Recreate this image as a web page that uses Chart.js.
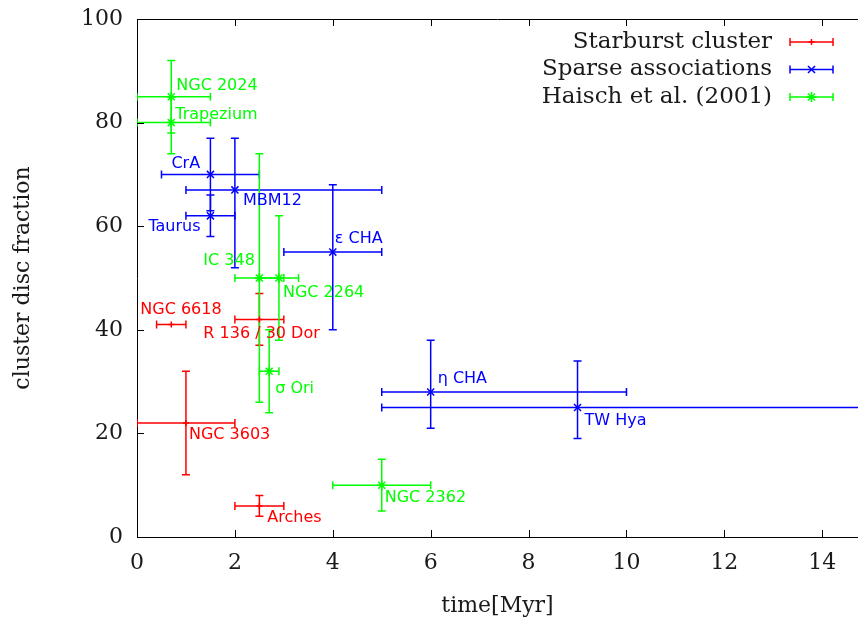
<!DOCTYPE html>
<html>
<head>
<meta charset="utf-8">
<script src="https://cdn.jsdelivr.net/npm/chart.js@4/dist/chart.umd.min.js"></script>
<style>
  html, body { margin: 0; padding: 0; background: #fff; }
  #wrap { width: 858px; height: 621px; }
</style>
</head>
<body>
<div id="wrap"><canvas id="discChart" width="858" height="621"></canvas></div>
<script>
// tick labels
const xTicks = [0, 2, 4, 6, 8, 10, 12, 14];
const yTicks = [0, 20, 40, 60, 80, 100];

// Starburst clusters
const starburstNames = ['NGC 6618', 'R 136 / 30 Dor', 'NGC 3603', 'Arches'];
const starburstAge = [0.7, 2.5, 1.0, 2.5];
const starburstAgeLow = [0.4, 2.0, 0.0, 2.0];
const starburstAgeHigh = [1.0, 3.0, 2.0, 3.0];
const starburstFrac = [41, 42, 22, 6];
const starburstFracLow = [41, 37, 12, 4];
const starburstFracHigh = [41, 47, 32, 8];

// Sparse associations
const sparseNames = ['CrA', 'MBM12', 'Taurus', 'ε CHA', 'η CHA', 'TW Hya'];
const sparseAge = [1.5, 2.0, 1.5, 4.0, 6.0, 9.0];
const sparseAgeLow = [0.5, 1.0, 1.0, 3.0, 5.0, 5.0];
const sparseAgeHigh = [2.5, 5.0, 2.0, 5.0, 10.0, 20.0];
const sparseFrac = [70, 67, 62, 55, 28, 25];
const sparseFracLow = [63, 52, 58, 40, 21, 19];
const sparseFracHigh = [77, 77, 66, 68, 38, 34];

// Haisch et al. (2001)
const haischNames = ['NGC 2024', 'Trapezium', 'IC 348', 'NGC 2264', 'σ Ori', 'NGC 2362'];
const haischAge = [0.7, 0.7, 2.5, 2.9, 2.7, 5.0];
const haischAgeLow = [0.0, 0.0, 2.0, 2.5, 2.5, 4.0];
const haischAgeHigh = [1.5, 1.5, 3.0, 3.3, 2.9, 6.0];
const haischFrac = [85, 80, 50, 50, 32, 10];
const haischFracLow = [78, 74, 26, 38, 24, 5];
const haischFracHigh = [92, 85, 74, 62, 40, 15];

// label offsets in pixels from each point (style, not data)
const starburstLabelOffsets = [[-31, -15], [-56, 14], [3, 12], [8, 12]];
const sparseLabelOffsets = [[-39, -11], [8, 11], [-62, 11], [2, -13], [7, -13], [7, 13]];
const haischLabelOffsets = [[5, -11], [4, -8], [-56, -17], [4, 15], [6, 18], [3, 13]];

const serif = '"DejaVu Serif", "Liberation Serif", serif';
const sans = '"DejaVu Sans", sans-serif';
const ink = '#1a1a1a';

function buildPoints(names, age, ageLow, ageHigh, frac, fracLow, fracHigh) {
  return names.map((name, i) => ({
    x: age[i], y: frac[i],
    xMin: ageLow[i], xMax: ageHigh[i],
    yMin: fracLow[i], yMax: fracHigh[i],
    name: name
  }));
}

const errorBars = {
  id: 'errorBars',
  beforeDatasetsDraw(chart) {
    const { ctx, chartArea, scales: { x, y } } = chart;
    const cap = 4;
    ctx.save();
    ctx.beginPath();
    ctx.rect(chartArea.left, chartArea.top, chartArea.right - chartArea.left, chartArea.bottom - chartArea.top);
    ctx.clip();
    chart.data.datasets.forEach((ds) => {
      ctx.strokeStyle = ds.borderColor;
      ctx.lineWidth = 1.5;
      ds.data.forEach((p) => {
        const px = x.getPixelForValue(p.x);
        const py = y.getPixelForValue(p.y);
        const x0 = x.getPixelForValue(p.xMin);
        const x1 = x.getPixelForValue(p.xMax);
        const y0 = y.getPixelForValue(p.yMin);
        const y1 = y.getPixelForValue(p.yMax);
        ctx.beginPath();
        if (p.xMax > p.xMin) {
          ctx.moveTo(x0, py); ctx.lineTo(x1, py);
          ctx.moveTo(x0, py - cap); ctx.lineTo(x0, py + cap);
          ctx.moveTo(x1, py - cap); ctx.lineTo(x1, py + cap);
        }
        if (p.yMax > p.yMin) {
          ctx.moveTo(px, y0); ctx.lineTo(px, y1);
          ctx.moveTo(px - cap, y0); ctx.lineTo(px + cap, y0);
          ctx.moveTo(px - cap, y1); ctx.lineTo(px + cap, y1);
        }
        ctx.stroke();
      });
    });
    ctx.restore();
  }
};

const frameTicks = {
  id: 'frameTicks',
  afterDraw(chart) {
    const { ctx, chartArea, scales: { x, y } } = chart;
    const len = 7;
    ctx.save();
    ctx.strokeStyle = '#000';
    ctx.lineWidth = 1;
    ctx.beginPath();
    ctx.moveTo(chartArea.left, chartArea.top + 0.5);
    ctx.lineTo(chartArea.right, chartArea.top + 0.5);
    xTicks.forEach((v) => {
      const px = Math.round(x.getPixelForValue(v)) + 0.5;
      ctx.moveTo(px, chartArea.bottom); ctx.lineTo(px, chartArea.bottom - len);
      ctx.moveTo(px, chartArea.top); ctx.lineTo(px, chartArea.top + len);
    });
    yTicks.forEach((v) => {
      const py = Math.round(y.getPixelForValue(v)) + 0.5;
      ctx.moveTo(chartArea.left, py); ctx.lineTo(chartArea.left + len, py);
    });
    ctx.stroke();
    ctx.restore();
  }
};

const pointLabels = {
  id: 'pointLabels',
  afterDatasetsDraw(chart) {
    const { ctx, scales: { x, y } } = chart;
    ctx.save();
    ctx.font = '16px ' + sans;
    ctx.textAlign = 'left';
    ctx.textBaseline = 'middle';
    chart.data.datasets.forEach((ds) => {
      ctx.fillStyle = ds.borderColor;
      ds.data.forEach((p, i) => {
        const off = ds.labelOffsets[i];
        ctx.fillText(p.name, x.getPixelForValue(p.x) + off[0], y.getPixelForValue(p.y) + off[1]);
      });
    });
    ctx.restore();
  }
};

const sideLegend = {
  id: 'sideLegend',
  afterDraw(chart) {
    const { ctx } = chart;
    const textRight = 772;
    const lineL = 790, lineR = 833;
    ctx.save();
    ctx.font = '23px ' + serif;
    ctx.textAlign = 'right';
    ctx.textBaseline = 'middle';
    chart.data.datasets.forEach((ds, i) => {
      const yy = 42 + i * 27.5;
      ctx.fillStyle = ink;
      ctx.fillText(ds.label, textRight, yy);
      ctx.strokeStyle = ds.borderColor;
      ctx.lineWidth = 1.5;
      ctx.beginPath();
      ctx.moveTo(lineL, yy); ctx.lineTo(lineR, yy);
      ctx.moveTo(lineL, yy - 4); ctx.lineTo(lineL, yy + 4);
      ctx.moveTo(lineR, yy - 4); ctx.lineTo(lineR, yy + 4);
      ctx.stroke();
      Chart.helpers.drawPoint(ctx, {
        pointStyle: ds.pointStyle, radius: ds.pointRadius, borderWidth: 1.5
      }, (lineL + lineR) / 2, yy);
    });
    ctx.restore();
  }
};

new Chart(document.getElementById('discChart'), {
  type: 'scatter',
  data: {
    datasets: [
      {
        label: 'Starburst cluster',
        data: buildPoints(starburstNames, starburstAge, starburstAgeLow, starburstAgeHigh, starburstFrac, starburstFracLow, starburstFracHigh),
        borderColor: '#ff0000',
        backgroundColor: '#ff0000',
        pointStyle: 'cross',
        pointRadius: 3,
        borderWidth: 1.5,
        labelOffsets: starburstLabelOffsets
      },
      {
        label: 'Sparse associations',
        data: buildPoints(sparseNames, sparseAge, sparseAgeLow, sparseAgeHigh, sparseFrac, sparseFracLow, sparseFracHigh),
        borderColor: '#0000ff',
        backgroundColor: '#0000ff',
        pointStyle: 'crossRot',
        pointRadius: 5,
        borderWidth: 1.5,
        labelOffsets: sparseLabelOffsets
      },
      {
        label: 'Haisch et al. (2001)',
        data: buildPoints(haischNames, haischAge, haischAgeLow, haischAgeHigh, haischFrac, haischFracLow, haischFracHigh),
        borderColor: '#00ff00',
        backgroundColor: '#00ff00',
        pointStyle: 'star',
        pointRadius: 5,
        borderWidth: 1.5,
        labelOffsets: haischLabelOffsets
      }
    ]
  },
  options: {
    responsive: false,
    animation: false,
    layout: { autoPadding: false, padding: { top: 19, right: 0, left: 0, bottom: 0 } },
    plugins: {
      legend: { display: false },
      tooltip: { enabled: false }
    },
    scales: {
      x: {
        type: 'linear',
        min: 0,
        max: 14.73,
        afterFit: (scale) => {
          scale.height = 84;
          scale.paddingLeft = 0;
          scale.paddingRight = 0;
        },
        afterBuildTicks: (scale) => { scale.ticks = xTicks.map((v) => ({ value: v })); },
        ticks: { font: { family: serif, size: 22 }, color: ink, padding: 13, maxRotation: 0 },
        grid: { drawOnChartArea: false, drawTicks: false },
        border: { display: true, color: '#000', width: 1 },
        title: { display: true, text: 'time[Myr]', font: { family: serif, size: 22 }, color: ink, padding: { top: 6, bottom: 2 } }
      },
      y: {
        type: 'linear',
        min: 0,
        max: 100,
        afterFit: (scale) => {
          scale.width = 137;
          scale.paddingTop = 0;
          scale.paddingBottom = 0;
        },
        afterBuildTicks: (scale) => { scale.ticks = yTicks.map((v) => ({ value: v })); },
        ticks: { font: { family: serif, size: 22 }, color: ink, padding: 14 },
        grid: { drawOnChartArea: false, drawTicks: false },
        border: { display: true, color: '#000', width: 1 },
        title: { display: true, text: 'cluster disc fraction', font: { family: serif, size: 22 }, color: ink, padding: { top: 10, bottom: 0 } }
      }
    }
  },
  plugins: [errorBars, frameTicks, pointLabels, sideLegend]
});
</script>
</body>
</html>
